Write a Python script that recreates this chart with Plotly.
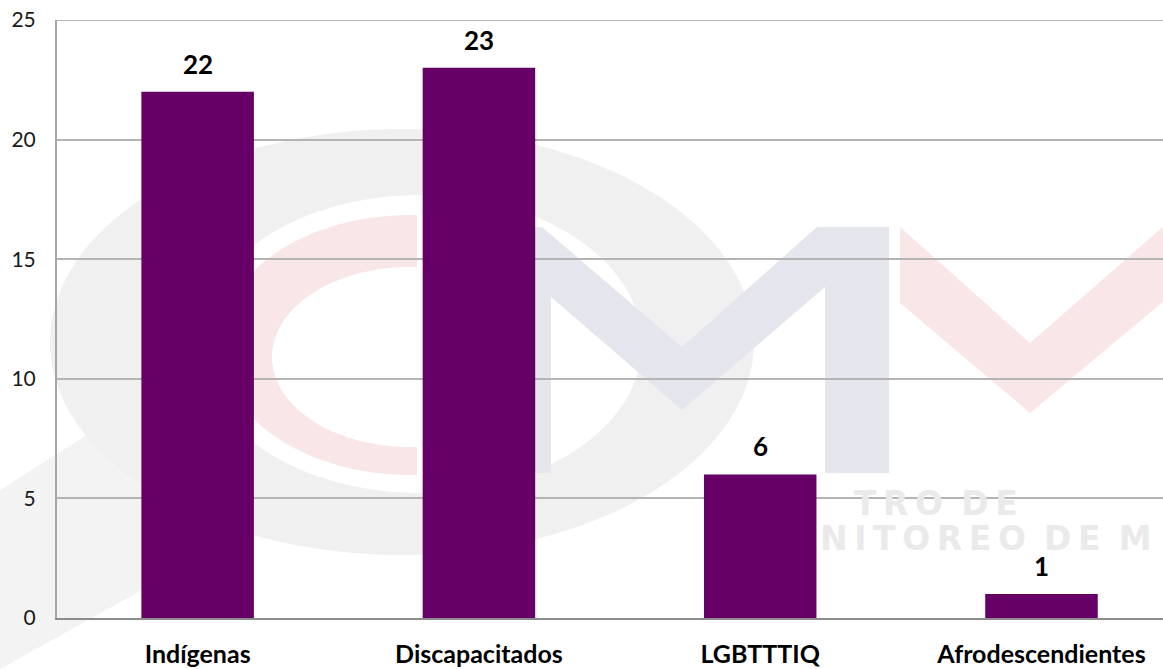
import numpy as np
import plotly.graph_objects as go

# ---------------- data ----------------
categories = ["Indígenas", "Discapacitados", "LGBTTTIQ", "Afrodescendientes"]
values = [22, 23, 6, 1]
y_ticks = [0, 5, 10, 15, 20, 25]

BAR_COLOR = "#660066"
FONT = "Lato"
GRID = "#b4b4b4"
W, H = 1163, 669
ML, MR, MT, MB = 57, 0, 20, 51
PW, PH = W - ML - MR, H - MT - MB


def to_paper(pts):
    return [((x - ML) / PW, (H - MB - y) / PH) for x, y in pts]


def path_from(pts_list):
    d = ""
    for pts in pts_list:
        pp = to_paper(pts)
        d += "M" + "L".join(f"{x:.5f},{y:.5f}" for x, y in pp) + "Z"
    return d


def ellipse(cx, cy, rx, ry, a0, a1, n=140):
    t = np.radians(np.linspace(a0, a1, n))
    return list(zip(cx + rx * np.cos(t), cy - ry * np.sin(t)))


def deco(path, color):
    return dict(type="path", path=path, fillcolor=color, line=dict(width=0),
                layer="below", xref="paper", yref="paper")


GAP = "\u2009"


def spaced(s):
    return GAP.join(s)


shapes = []
# diagonal light band bottom-left (watermark)
shapes.append(deco(path_from([[(0, 490), (150, 395), (250, 530), (0, 669)]]), "rgb(243,243,243)"))
# grey ring
outer = ellipse(402, 342, 352, 213, 0, 360)
inner = ellipse(420, 344, 222, 149, 360, 0)
shapes.append(deco(path_from([outer, inner]), "rgb(240,240,240)"))
# red C (cut at x = 417)
cx_o, rx_o, cx_i, rx_i = 410, 190, 410, 138
a_o = np.degrees(np.arccos((417 - cx_o) / rx_o))
a_i = np.degrees(np.arccos((417 - cx_i) / rx_i))
oc = ellipse(cx_o, 345, rx_o, 130, a_o, 360 - a_o)
ic = ellipse(cx_i, 357, rx_i, 90, 360 - a_i, a_i)
shapes.append(deco(path_from([oc + ic]), "rgb(249,231,231)"))
# M
m_pts = [(487, 227), (542, 227), (682, 347), (817, 227), (889, 227), (889, 473),
         (825, 473), (825, 287), (682, 410), (551, 297), (551, 473), (487, 473)]
shapes.append(deco(path_from([m_pts]), "rgb(229,229,238)"))
# red V
v_pts = [(900, 227), (1030, 343), (1165, 225), (1165, 300), (1030, 413), (900, 303)]
shapes.append(deco(path_from([v_pts]), "rgb(249,231,231)"))
# top gridline at 25
shapes.append(dict(type="line", xref="paper", yref="y", x0=0, x1=1, y0=25, y1=25,
                   line=dict(color=GRID, width=2), layer="below"))

fig = go.Figure()
fig.add_trace(go.Bar(x=categories, y=values, marker=dict(color=BAR_COLOR, line=dict(width=0)),
                     width=0.4, hoverinfo="skip"))

annotations = []
for c, v in zip(categories, values):
    annotations.append(dict(x=c, y=v, text=f"<b>{v}</b>", showarrow=False, yanchor="bottom",
                            yshift=10, font=dict(family=FONT, size=26, color="#000000")))

# watermark text (visible part of the logo lettering)
WM = dict(family="DejaVu Sans", size=33, color="rgb(234,234,234)")
annotations.append(dict(xref="paper", yref="paper", x=(1020 - ML) / PW, y=(H - MB - 503) / PH,
                        xanchor="right", yanchor="middle", showarrow=False,
                        text="<b>" + spaced("TRO") + GAP + " " + spaced("DE") + "</b>", font=WM))
annotations.append(dict(xref="paper", yref="paper", x=(818 - ML) / PW, y=(H - MB - 538) / PH,
                        xanchor="left", yanchor="middle", showarrow=False,
                        text="<b>" + spaced("NITOREO") + GAP + " " + spaced("DE")
                             + GAP + " M</b>", font=WM))

fig.update_layout(
    width=W, height=H,
    margin=dict(l=ML, r=MR, t=MT, b=MB, pad=0, autoexpand=False),
    paper_bgcolor="white", plot_bgcolor="rgba(0,0,0,0)",
    showlegend=False,
    shapes=shapes,
    annotations=annotations,
    xaxis=dict(range=[-0.5, 3.432], showgrid=False, showline=True, linecolor="#8c8c8c",
               linewidth=2, ticks="", ticklabelstandoff=13, automargin=False,
               tickfont=dict(family=FONT, size=25, color="#000000"),
               tickvals=categories, ticktext=[f"<b>{c}</b>" for c in categories]),
    yaxis=dict(range=[0, 25], tickvals=y_ticks, showgrid=True, gridcolor=GRID, gridwidth=2,
               zeroline=False, showline=True, linecolor="#a6a6a6", linewidth=2, ticks="",
               automargin=False, ticklabelstandoff=15,
               tickfont=dict(family=FONT, size=21, color="#1a1a1a")),
)

fig.write_html("out.html", config={"displayModeBar": False},
               post_script="document.body.style.margin='0';document.body.style.overflow='hidden';")
